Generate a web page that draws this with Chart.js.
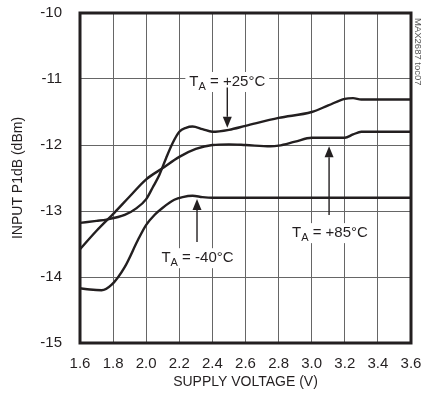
<!DOCTYPE html>
<html>
<head>
<meta charset="utf-8">
<script src="https://cdn.jsdelivr.net/npm/chart.js@4.4.1/dist/chart.umd.min.js"></script>
<style>
  html, body { margin: 0; padding: 0; background: #fff; }
  #wrap { position: relative; width: 425px; height: 404px; }
</style>
</head>
<body>
<div id="wrap"><canvas id="p1db" width="425" height="404"></canvas></div>
<script>
/* Input P1dB vs supply voltage, three ambient temperatures (MAX2687 toc07) */
const FONT = "'Liberation Sans', Arial, sans-serif";
const INK = '#231f20';

// supply voltage (V) / input P1dB (dBm)
const volts25 = [1.6, 1.7, 1.76, 1.87, 1.94, 2.0, 2.04, 2.08, 2.12, 2.16, 2.2, 2.24, 2.28, 2.34, 2.4, 2.5, 2.6, 2.8, 3.0, 3.1, 3.2, 3.25, 3.3, 3.6];
const p1db25 = [-13.18, -13.15, -13.13, -13.06, -12.96, -12.82, -12.64, -12.45, -12.2, -11.97, -11.8, -11.74, -11.72, -11.76, -11.8, -11.77, -11.71, -11.59, -11.5, -11.4, -11.3, -11.29, -11.31, -11.31];

const volts85 = [1.6, 1.7, 1.81, 1.9, 2.0, 2.1, 2.2, 2.3, 2.4, 2.5, 2.6, 2.75, 2.8, 2.9, 3.0, 3.2, 3.25, 3.3, 3.6];
const p1db85 = [-13.58, -13.3, -13.02, -12.78, -12.52, -12.35, -12.18, -12.06, -12.0, -11.99, -12.0, -12.02, -12.01, -11.95, -11.89, -11.89, -11.84, -11.8, -11.8];

const voltsM40 = [1.6, 1.66, 1.73, 1.79, 1.87, 1.95, 2.0, 2.05, 2.1, 2.17, 2.22, 2.28, 2.34, 2.4, 3.6];
const p1dbM40 = [-14.17, -14.19, -14.2, -14.12, -13.85, -13.44, -13.21, -13.06, -12.95, -12.83, -12.79, -12.77, -12.79, -12.8, -12.8];

const xTicks = [1.6, 1.8, 2.0, 2.2, 2.4, 2.6, 2.8, 3.0, 3.2, 3.4, 3.6];
const yTicks = [-15, -14, -13, -12, -11, -10];

// curve labels: text, label centre (V, dBm), arrow from -> tip (dBm) at arrow voltage
const labelText = ['+25°C', '-40°C', '+85°C'];
const labelAt = [[2.49, -11.03], [2.31, -13.7], [3.11, -13.32]];
const arrowV = [2.49, 2.307, 3.105];
const arrowFrom = [-11.13, -13.47, -13.06];
const arrowTip = [-11.74, -12.82, -12.02];

const toPoints = (xs, ys) => xs.map((x, i) => ({ x, y: ys[i] }));

const curve = (label, xs, ys) => ({
  label,
  data: toPoints(xs, ys),
  borderColor: INK,
  borderWidth: 2.4,
  pointRadius: 0,
  fill: false,
  cubicInterpolationMode: 'monotone'
});

function drawLabel(ctx, cx, cy, rest) {
  ctx.save();
  ctx.textBaseline = 'alphabetic';
  ctx.textAlign = 'left';
  const big = `15px ${FONT}`;
  const sub = `11px ${FONT}`;
  ctx.font = big;
  const wT = ctx.measureText('T').width;
  const wRest = ctx.measureText(' = ' + rest).width;
  ctx.font = sub;
  const wA = ctx.measureText('A').width;
  const total = wT + wA + wRest;
  const x0 = cx - total / 2;
  const base = cy + 5;
  ctx.fillStyle = '#fff';
  ctx.fillRect(x0 - 4, cy - 9, total + 8, 20);
  ctx.fillStyle = INK;
  ctx.font = big;
  ctx.fillText('T', x0, base);
  ctx.font = sub;
  ctx.fillText('A', x0 + wT, base + 4);
  ctx.font = big;
  ctx.fillText(' = ' + rest, x0 + wT + wA, base);
  ctx.restore();
}

function drawArrow(ctx, x, y0, y1) {
  const dir = y1 > y0 ? 1 : -1;
  const head = 11;
  ctx.save();
  ctx.strokeStyle = INK;
  ctx.fillStyle = INK;
  ctx.lineWidth = 1.4;
  ctx.beginPath();
  ctx.moveTo(x, y0);
  ctx.lineTo(x, y1 - dir * head);
  ctx.stroke();
  ctx.beginPath();
  ctx.moveTo(x, y1);
  ctx.lineTo(x - 4.5, y1 - dir * head);
  ctx.lineTo(x + 4.5, y1 - dir * head);
  ctx.closePath();
  ctx.fill();
  ctx.restore();
}

const annotations = {
  id: 'annotations',
  beforeDatasetsDraw(chart) {
    const { ctx, scales: { x, y } } = chart;
    labelText.forEach((t, i) => {
      drawLabel(ctx, x.getPixelForValue(labelAt[i][0]), y.getPixelForValue(labelAt[i][1]), t);
    });
  },
  afterDatasetsDraw(chart) {
    const { ctx, chartArea: a, scales: { x, y } } = chart;
    arrowV.forEach((v, i) => {
      drawArrow(ctx, x.getPixelForValue(v), y.getPixelForValue(arrowFrom[i]), y.getPixelForValue(arrowTip[i]));
    });
    ctx.save();
    ctx.strokeStyle = INK;
    ctx.lineWidth = 3;
    ctx.strokeRect(a.left, a.top, a.right - a.left, a.bottom - a.top);
    // figure id, rotated on the right edge
    ctx.translate(a.right + 7, a.top + 5);
    ctx.rotate(Math.PI / 2);
    ctx.font = `9.5px ${FONT}`;
    ctx.fillStyle = '#555';
    ctx.textAlign = 'left';
    ctx.textBaseline = 'middle';
    ctx.fillText('MAX2687 toc07', 0, 0);
    ctx.restore();
  }
};

new Chart(document.getElementById('p1db'), {
  type: 'line',
  data: {
    datasets: [
      curve('TA = +25°C', volts25, p1db25),
      curve('TA = +85°C', volts85, p1db85),
      curve('TA = -40°C', voltsM40, p1dbM40)
    ]
  },
  options: {
    responsive: false,
    animation: false,
    devicePixelRatio: 1,
    layout: { padding: { top: 13, right: 14, left: 0, bottom: 0 } },
    plugins: { legend: { display: false }, tooltip: { enabled: false } },
    scales: {
      x: {
        type: 'linear',
        min: 1.6,
        max: 3.6,
        afterBuildTicks: s => { s.ticks = xTicks.map(value => ({ value })); },
        afterFit: s => { s.height = 61; s.paddingLeft = 0; s.paddingRight = 0; },
        ticks: { color: INK, font: { family: FONT, size: 15 }, padding: 12, callback: v => v.toFixed(1), maxRotation: 0 },
        grid: { color: '#666', lineWidth: 1, drawTicks: false },
        border: { display: false },
        title: { display: true, text: 'SUPPLY VOLTAGE (V)', color: INK, font: { family: FONT, size: 14 }, padding: { top: 0, bottom: 13 } }
      },
      y: {
        min: -15,
        max: -10,
        afterBuildTicks: s => { s.ticks = yTicks.map(value => ({ value })); },
        afterFit: s => { s.width = 80; s.paddingTop = 0; s.paddingBottom = 0; },
        ticks: { color: INK, font: { family: FONT, size: 15 }, padding: 18, callback: v => String(v) },
        grid: { color: '#666', lineWidth: 1, drawTicks: false },
        border: { display: false },
        title: { display: true, text: 'INPUT P1dB (dBm)', color: INK, font: { family: FONT, size: 14 }, padding: { top: 9.5, bottom: 0 } }
      }
    }
  },
  plugins: [annotations]
});
</script>
</body>
</html>
